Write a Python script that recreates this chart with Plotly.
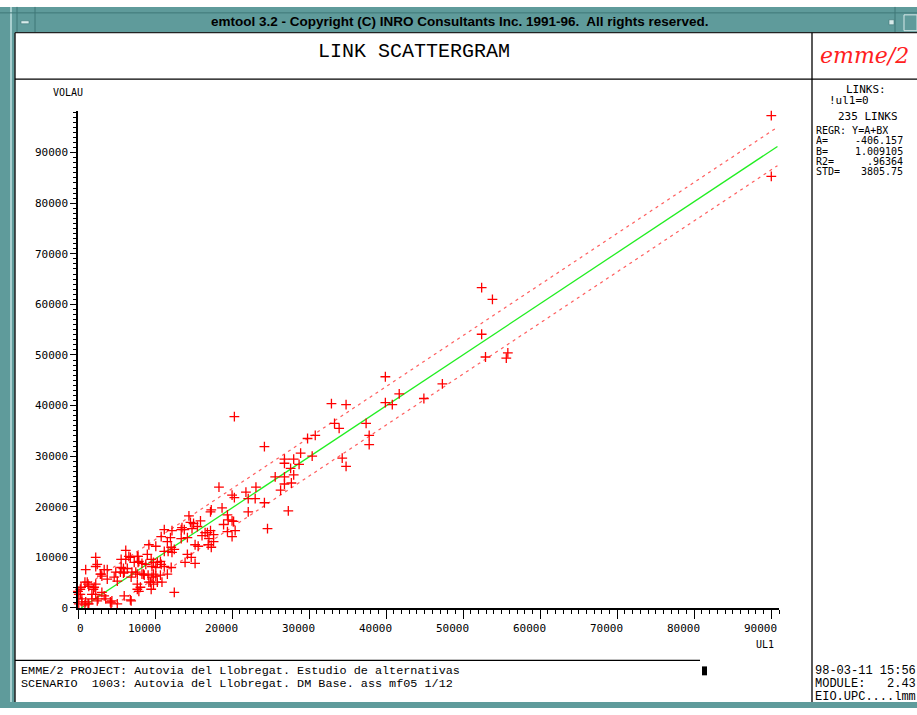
import plotly.graph_objects as go

W, H = 917, 715

# ---------------- data ----------------
ul1 = [90000, 90000, 52400, 53800, 52400, 52900, 55800, 55600, 47300, 39900,
       44900, 41700, 32900, 34800, 39900, 40800, 20300, 33300, 33900, 37400,
       37800, 37800, 34300, 34800, 29800, 30800, 24200, 28900, 30400, 26800,
       28000, 26800, 27600, 28700, 25600, 26800, 28000, 26800, 27700, 26300,
       27300, 18300, 20000, 20300, 21800, 23100, 22100, 23000, 24200, 17200,
       18700, 22100, 19400, 19500, 20000, 18900, 20400, 24600, 15000, 15900,
       17200, 16800, 17600, 20200, 20000, 17600, 16900, 14400, 17300, 11200,
       12200, 13400, 13800, 14800, 10800, 13400, 16100, 17000, 17300, 11600,
       9200, 10100, 12100, 12500, 12200, 11200, 14200, 14700, 15200, 13900,
       12100, 6200, 6600, 6200, 5600, 2300, 2300, 1000, 7300, 7900,
       8800, 9600, 10100, 10800, 11200, 9500, 5600, 6000, 7000, 7500,
       8300, 8600, 9600, 10100, 3400, 3800, 3000, 3800, 4900, 4700,
       5100, 6900, 7700, 9200, 10300, 9500, 7700, 7900, 12500, 6000,
       6900, 4400, 4300, 1200, 2300, 2100, 1400, 400, 100, 0,
       2300, 3100, 3400, 1800, 500, 1000, 1400, 100, 2500, 3600,
       5100, 14600, 15500, 13500, 12000, 14200, 15200, 15600, 11700, 6800,
       7700, 7800, 9000, 9800, 10300, 10700, 7800, 8300, 5900, 6400,
       5500, 5900, 2500, 2900, 3100, 7700, 8500, 9100, 9800, 10700,
       11600, 9400, 9800, 10900, 8100, 900, 1300, 2000, 1800, 300,
       300, 6800, 4200, 500, 900, 1300, 2600, 19400, 16500]
volau = [97300, 85300, 63300, 61000, 54100, 49600, 50400, 49400, 44300, 45700,
         41400, 42300, 40400, 40200, 40600, 40200, 37800, 36500, 35500, 36500,
         34100, 32300, 29600, 28000, 33500, 34100, 31900, 30600, 30000, 29400,
         29400, 28600, 27600, 28400, 25900, 25900, 26300, 24500, 24700, 23300,
         19200, 23900, 22300, 21800, 22900, 23900, 21600, 21600, 20800, 19000,
         19800, 19000, 18400, 17400, 17200, 16500, 15300, 15700, 16700, 17200,
         15300, 14900, 14500, 17100, 14100, 13100, 12500, 18200, 19400, 15500,
         15300, 15500, 15500, 15700, 14100, 13700, 14300, 13700, 12000, 13100,
         12500, 12200, 12000, 11600, 11000, 11200, 10600, 10000, 8800, 9000,
         8000, 11400, 10200, 9600, 9600, 10000, 8200, 7600, 9000, 9200,
         8600, 8200, 8000, 8600, 8200, 9600, 8000, 7100, 7100, 7100,
         6700, 6500, 6100, 6300, 7600, 7600, 6700, 5700, 7100, 6100,
         5300, 6100, 4700, 5100, 5100, 3700, 3700, 3300, 3100, 2400,
         1400, 1400, 1000, 5100, 4700, 4100, 4300, 4100, 2700, 3300,
         2700, 3100, 2400, 1800, 1800, 1200, 800, 800, 1400, 1800,
         800, 16900, 16100, 15900, 13900, 13900, 12500, 12200, 11200, 10000,
         10200, 10200, 10600, 9000, 9000, 9200, 9000, 8800, 7800, 7800,
         7100, 6900, 8600, 6700, 6300, 6700, 6700, 6500, 6700, 6500,
         6700, 5100, 4700, 5100, 4100, 5100, 4700, 3700, 2700, 3700,
         2700, 1600, 1200, 1200, 600, 800, 1800, 15100, 14900]

x_ticks = [0, 10000, 20000, 30000, 40000, 50000, 60000, 70000, 80000, 90000]
y_ticks = [0, 10000, 20000, 30000, 40000, 50000, 60000, 70000, 80000, 90000]
x_tick_labels = [str(v) for v in x_ticks]
y_tick_labels = [str(v) for v in y_ticks]

regr_a = -406.157
regr_b = 1.009105
regr_r2 = 0.96364
regr_std = 3805.75
n_links = 235
x_max_data = 90800

x_range = [0, 91000]
y_range = [0, 98240]

# regression lines (computed from regression parameters)
g_x0 = -regr_a / regr_b
lo_x0 = (regr_std - regr_a) / regr_b
green_x = [g_x0, x_max_data]
green_y = [regr_a + regr_b * v for v in green_x]
up_x = [0, x_max_data]
up_y = [regr_a + regr_b * v + regr_std for v in up_x]
lo_x = [lo_x0, x_max_data]
lo_y = [regr_a + regr_b * v - regr_std for v in lo_x]


def px(x):
    return x / W


def py(y):
    return 1 - y / H


TEAL = "#5f9b9b"
MONO = "DejaVu Sans Mono"
COUR = "Liberation Mono"

fig = go.Figure()
for xs, ys in ((up_x, up_y), (lo_x, lo_y)):
    fig.add_trace(go.Scatter(x=xs, y=ys, mode="lines",
                             line=dict(color="rgba(255,40,40,0.75)", width=1.2, dash="3px,4px"),
                             hoverinfo="skip"))
fig.add_trace(go.Scatter(x=green_x, y=green_y, mode="lines",
                         line=dict(color="#22ee22", width=1.3), hoverinfo="skip"))
fig.add_trace(go.Scatter(x=ul1, y=volau, mode="markers", cliponaxis=False,
                         marker=dict(symbol="cross-thin", size=7,
                                     line=dict(color="#ff0000", width=1.3))))

shapes = []
def rect(x0, y0, x1, y1, fill, line_color=None, lw=0):
    shapes.append(dict(type="rect", xref="paper", yref="paper",
                       x0=px(x0), x1=px(x1), y0=py(y1), y1=py(y0),
                       fillcolor=fill,
                       line=dict(color=line_color or fill, width=lw)))

def seg(x0, y0, x1, y1, color="black", lw=1.2):
    shapes.append(dict(type="line", xref="paper", yref="paper",
                       x0=px(x0), x1=px(x1), y0=py(y0), y1=py(y1),
                       line=dict(color=color, width=lw)))

# window frame
rect(0, 7, W, 33, TEAL)
rect(0, 7, 15, H, TEAL)
rect(10, 7, 12, H, "#a9cfcf")
rect(0, 709, W, H, TEAL)
seg(0, 13, W, 13, "#3f7777", 1)
seg(17, 7, 17, 33, "#3f7777", 1)
seg(35, 7, 35, 33, "#3f7777", 1)
seg(895, 7, 895, 33, "#3f7777", 1)
rect(21, 21, 29, 24, "#d8eaea", "#3f7777", 0.6)
rect(889, 20, 894, 25, "#d8eaea", "#3f7777", 0.6)
rect(904, 15, 917, 31, TEAL, "#d8eaea", 1)
# content borders
seg(15, 33, 15, 709, "#222222", 1.5)
seg(15, 33, W, 33, "#222222", 1.2)
seg(15, 80, W, 80, "black", 1.3)
seg(812, 33, 812, 709, "black", 1.3)
seg(15, 667, 700, 667, "black", 1.3)
rect(702, 673, 707, 682, "black")

ann = []
def text(x, y, s, size=11, family=MONO, color="black", anchor="left", weight="normal",
         style="normal", height=None):
    a = dict(x=px(x), y=py(y), xref="paper", yref="paper", text=s,
             showarrow=False, xanchor=anchor, yanchor="middle", borderpad=0,
             font=dict(family=family, size=size, color=color, weight=weight, style=style))
    if height:
        a["height"] = height
    ann.append(a)

text(460, 22, "emtool 3.2 - Copyright (C) INRO Consultants Inc. 1991-96.\u00a0 All rights reserved.",
     size=13.5, family="Liberation Sans", anchor="center", weight="bold")
text(414, 52, "LINK SCATTERGRAM", size=20, family=COUR, anchor="center")
text(864, 56, "emme/2", size=22, family="DejaVu Serif", color="#ff2020", anchor="center", style="italic")

text(68, 93, "VOLAU", size=10, anchor="center")
text(775, 651, "UL1", size=10, anchor="right")

# right panel
RP = 11
RR = 10
text(866, 90, "LINKS:", size=RP, anchor="center", height=10)
text(828, 101, "!ul1=0", size=RP, height=10)
text(837, 117, f"{n_links} LINKS", size=RP, height=10)
text(815, 131, "REGR:\u00a0Y=A+BX", size=RR, height=10)
text(815, 141.5, "A=", size=RR, height=10)
text(904, 141.5, f"{regr_a:.3f}", size=RR, anchor="right", height=10)
text(815, 152, "B=", size=RR, height=10)
text(904, 152, f"{regr_b:.6f}", size=RR, anchor="right", height=10)
text(815, 162.5, "R2=", size=RR, height=10)
text(904, 162.5, f"{regr_r2:.5f}".lstrip("0"), size=RR, anchor="right", height=10)
text(815, 173, "STD=", size=RR, height=10)
text(904, 173, f"{regr_std:.2f}", size=RR, anchor="right", height=10)

# bottom texts
text(20, 678, "EMME/2 PROJECT: Autovia del Llobregat. Estudio de alternativas", size=11.8, family=COUR, height=12)
text(20, 691, "SCENARIO\u00a0 1003: Autovia del Llobregat. DM Base. ass mf05 1/12", size=11.8, family=COUR, height=12)
text(814, 678, "98-03-11 15:56", size=12, family=COUR, height=12)
text(814, 691, "MODULE:\u00a0\u00a0 2.43", size=12, family=COUR, height=12)
text(814, 704, "EIO.UPC....lmm", size=12, family=COUR, height=12)

# x tick labels (right aligned near tick)
for v, lab in zip(x_ticks, x_tick_labels):
    ann.append(dict(x=v, y=py(635), xref="x", yref="paper", text=lab, showarrow=False,
                    xanchor="right", yanchor="middle", xshift=7, borderpad=0,
                    font=dict(family=MONO, size=11, color="black")))

fig.update_layout(
    width=W, height=H, autosize=False,
    margin=dict(l=0, r=0, t=0, b=0, pad=0),
    paper_bgcolor="white", plot_bgcolor="white",
    showlegend=False,
    shapes=shapes, annotations=ann,
    xaxis=dict(domain=[px(78), px(779)], range=x_range, showgrid=False, zeroline=False,
               showline=True, linecolor="black", linewidth=1.5,
               ticks="outside", ticklen=9, tickwidth=1.3, tickcolor="black",
               tickvals=x_ticks, showticklabels=False,
               minor=dict(dtick=1000, tick0=0, ticks="outside", ticklen=4, tickwidth=1,
                          tickcolor="black", showgrid=False)),
    yaxis=dict(domain=[py(614), py(112)], range=y_range, showgrid=False, zeroline=False,
               showline=True, linecolor="black", linewidth=1.5,
               ticks="outside", ticklen=6, tickwidth=1.3, tickcolor="black",
               tickvals=y_ticks, ticktext=y_tick_labels,
               tickfont=dict(family=MONO, size=11, color="black"),
               minor=dict(dtick=1000, tick0=0, ticks="outside", ticklen=3, tickwidth=1,
                          tickcolor="black", showgrid=False)),
)

js = """
document.body.style.margin = '0';
document.body.style.padding = '0';
document.documentElement.style.overflow = 'hidden';
"""

fig.write_html("out.html", post_script=js)
